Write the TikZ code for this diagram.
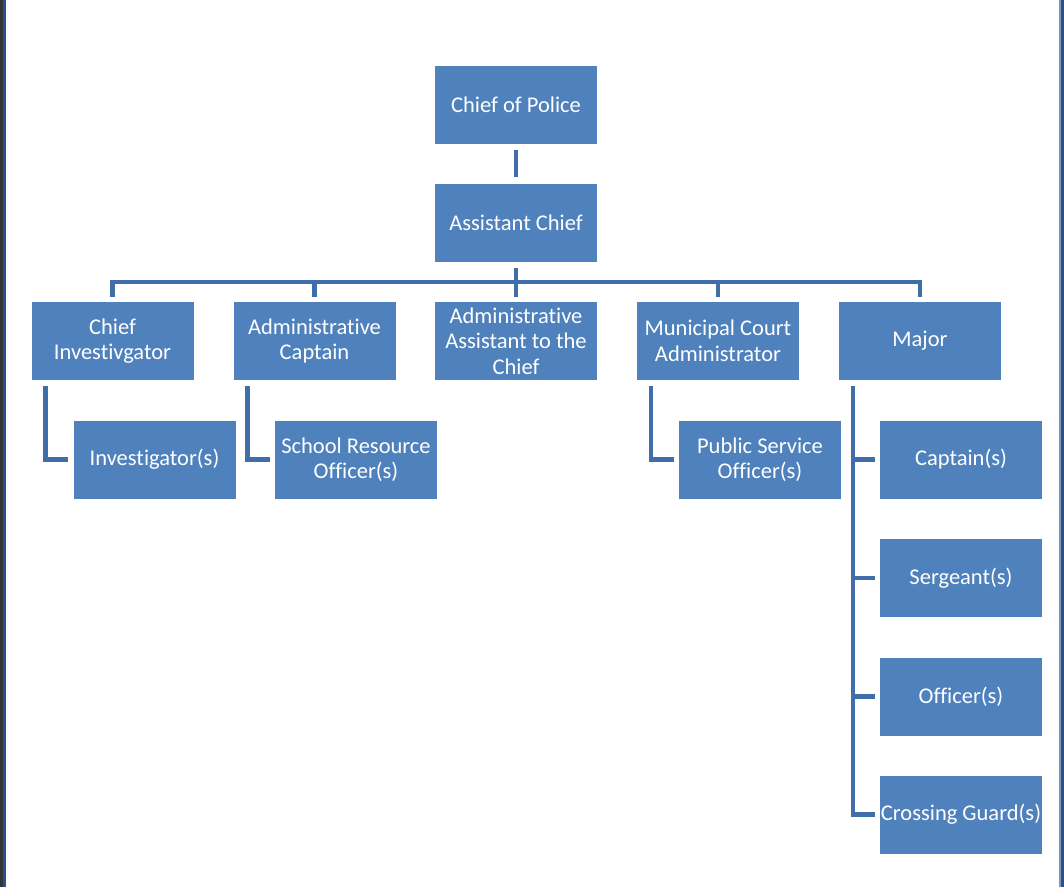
\documentclass[tikz,border=0pt]{standalone}
\usepackage{fontspec}
\setmainfont{Carlito}[Ligatures=NoCommon]
\definecolor{boxblue}{RGB}{79,129,189}
\definecolor{linkblue}{RGB}{64,110,168}
\definecolor{edgegray}{RGB}{50,52,56}
\definecolor{edgeblue}{RGB}{40,80,140}
\begin{document}
\begin{tikzpicture}[x=1pt,y=-1pt,
  orgbox/.style={fill=boxblue, draw=none, minimum width=162pt, minimum height=78pt,
    inner sep=0pt, text=white, align=center, font=\fontsize{22.5}{25.5}\selectfont},
  link/.style={draw=linkblue, line width=4.5pt, line join=miter}]
\useasboundingbox (0,0) rectangle (1064,887);
\fill[white] (0,0) rectangle (1064,887);
\fill[edgegray] (0,0) rectangle (3,887);
\fill[edgeblue] (3,0) rectangle (6,887);
\fill[edgeblue!60!white] (1059,0) rectangle (1061,887);
\fill[edgeblue] (1061,0) rectangle (1064,887);

\node[orgbox] (cop) at (516,104.5) {Chief of Police};
\node[orgbox] (ac) at (516,222.5) {Assistant Chief};

\node[orgbox] (ci) at (112.5,341) {Chief\\Investivgator};
\node[orgbox] (acap) at (314.5,341) {Administrative\\Captain};
\node[orgbox] (aa) at (516,341) {Administrative\\Assistant to the\\Chief};
\node[orgbox] (mca) at (718,341) {Municipal Court\\Administrator};
\node[orgbox] (maj) at (920,341) {Major};

\node[orgbox] (inv) at (154.5,459.5) {Investigator(s)};
\node[orgbox] (sro) at (356,459.5) {School Resource\\Officer(s)};
\node[orgbox] (pso) at (760,459.5) {Public Service\\Officer(s)};

\node[orgbox] (capt) at (961,459.5) {Captain(s)};
\node[orgbox] (sgt) at (961,578) {Sergeant(s)};
\node[orgbox] (off) at (961,696.5) {Officer(s)};
\node[orgbox] (cg) at (961,814.5) {Crossing Guard(s)};

% top link
\draw[link] ([yshift=-6pt]cop.south) -- ([yshift=6pt]ac.north);
% bus
\coordinate (bus) at (516,282);
\draw[link] ([yshift=-6pt]ac.south) -- ([yshift=5pt]aa.north);
\draw[link] ([yshift=5pt]ci.north) -- (ci.north |- bus) -- (maj.north |- bus) -- ([yshift=5pt]maj.north);
\draw[link] (acap.north |- bus) -- ([yshift=5pt]acap.north);
\draw[link] (mca.north |- bus) -- ([yshift=5pt]mca.north);

% level 3 links
\draw[link] ([xshift=-67pt,yshift=-6pt]ci.south) |- ([xshift=-5pt]inv.west);
\draw[link] ([xshift=-67pt,yshift=-6pt]acap.south) |- ([xshift=-5pt]sro.west);
\draw[link] ([xshift=-67pt,yshift=-6pt]mca.south) |- ([xshift=-5pt]pso.west);

% major links
\draw[link] ([xshift=-67pt,yshift=-6pt]maj.south) |- ([xshift=-5pt]cg.west);
\draw[link] (853,459.5) -- ([xshift=-5pt]capt.west);
\draw[link] (853,578) -- ([xshift=-5pt]sgt.west);
\draw[link] (853,696.5) -- ([xshift=-5pt]off.west);
\end{tikzpicture}
\end{document}
